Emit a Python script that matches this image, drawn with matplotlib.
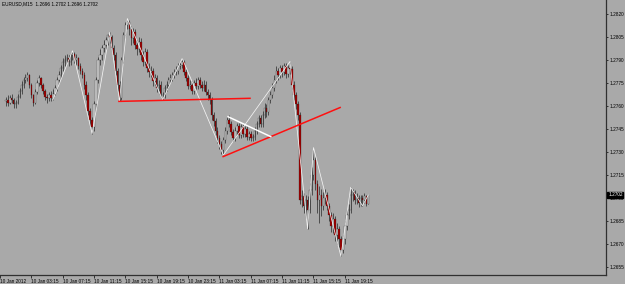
import numpy as np
import matplotlib
matplotlib.use("Agg")
import matplotlib.pyplot as plt

# EURUSD M15, 10-11 Jan 2012
first_open = 1.2763
closes = [
    1.2764, 1.2762, 1.2765, 1.2764, 1.2761, 1.2762, 1.2766, 1.2770, 1.2774, 1.2777,
    1.2778, 1.2780, 1.2774, 1.2767, 1.2762, 1.2769, 1.2775, 1.2778, 1.2774, 1.2770,
    1.2766, 1.2765, 1.2767, 1.2765, 1.2768, 1.2772, 1.2777, 1.2780, 1.2785, 1.2789,
    1.2790, 1.2791, 1.2789, 1.2793, 1.2794, 1.2790, 1.2791, 1.2786, 1.2783, 1.2780,
    1.2774, 1.2767, 1.2757, 1.2751, 1.2746, 1.2761, 1.2777, 1.2790, 1.2793, 1.2798,
    1.2800, 1.2803, 1.2806, 1.2805, 1.2798, 1.2793, 1.2783, 1.2774, 1.2765, 1.2790,
    1.2806, 1.2813, 1.2815, 1.2810, 1.2804, 1.2808, 1.2800, 1.2797, 1.2802, 1.2793,
    1.2789, 1.2795, 1.2785, 1.2782, 1.2783, 1.2776, 1.2778, 1.2772, 1.2774, 1.2767,
    1.2767, 1.2772, 1.2774, 1.2777, 1.2778, 1.2780, 1.2782, 1.2783, 1.2786, 1.2787,
    1.2789, 1.2782, 1.2778, 1.2773, 1.2774, 1.2770, 1.2775, 1.2773, 1.2777, 1.2774,
    1.2772, 1.2774, 1.2769, 1.2767, 1.2764, 1.2754, 1.2750, 1.2744, 1.2739, 1.2735,
    1.2731, 1.2738, 1.2744, 1.2751, 1.2748, 1.2743, 1.2739, 1.2744, 1.2747, 1.2741,
    1.2746, 1.2742, 1.2745, 1.2740, 1.2742, 1.2739, 1.2740, 1.2744, 1.2748, 1.2752,
    1.2748, 1.2754, 1.2759, 1.2756, 1.2764, 1.2767, 1.2772, 1.2777, 1.2783, 1.2780,
    1.2785, 1.2782, 1.2786, 1.2781, 1.2785, 1.2784, 1.2774, 1.2767, 1.2761, 1.2754,
    1.2699, 1.2701, 1.2695, 1.2699, 1.2692, 1.2705, 1.2715, 1.2725, 1.2709, 1.2699,
    1.2702, 1.2695, 1.2700, 1.2702, 1.2695, 1.2689, 1.2682, 1.2686, 1.2676, 1.2680,
    1.2673, 1.2666, 1.2673, 1.2682, 1.2689, 1.2692, 1.2702, 1.2704, 1.2699, 1.2700,
    1.2697, 1.2700, 1.2699, 1.2701, 1.2696, 1.2702,
]
highs = [
    1.2766, 1.2767, 1.2767, 1.2768, 1.2765, 1.2764, 1.2768, 1.2772, 1.2776, 1.2779,
    1.2781, 1.2782, 1.2781, 1.2775, 1.2768, 1.2771, 1.2777, 1.2780, 1.2779, 1.2775,
    1.2771, 1.2768, 1.2769, 1.2770, 1.2771, 1.2774, 1.2779, 1.2783, 1.2787, 1.2791,
    1.2793, 1.2794, 1.2793, 1.2795, 1.2796, 1.2795, 1.2794, 1.2792, 1.2788, 1.2785,
    1.2782, 1.2776, 1.2769, 1.2759, 1.2753, 1.2763, 1.2779, 1.2792, 1.2797, 1.2800,
    1.2803, 1.2805, 1.2807, 1.2808, 1.2806, 1.2800, 1.2795, 1.2785, 1.2776, 1.2792,
    1.2808, 1.2815, 1.2817, 1.2816, 1.2812, 1.2811, 1.2810, 1.2803, 1.2805, 1.2804,
    1.2796, 1.2798, 1.2797, 1.2788, 1.2786, 1.2785, 1.2781, 1.2780, 1.2777, 1.2776,
    1.2769, 1.2774, 1.2776, 1.2779, 1.2781, 1.2782, 1.2784, 1.2786, 1.2788, 1.2789,
    1.2791, 1.2790, 1.2784, 1.2780, 1.2777, 1.2776, 1.2777, 1.2778, 1.2779, 1.2779,
    1.2776, 1.2777, 1.2776, 1.2771, 1.2769, 1.2766, 1.2756, 1.2752, 1.2746, 1.2741,
    1.2737, 1.2740, 1.2746, 1.2753, 1.2754, 1.2750, 1.2745, 1.2746, 1.2749, 1.2749,
    1.2748, 1.2748, 1.2747, 1.2747, 1.2744, 1.2744, 1.2742, 1.2746, 1.2750, 1.2754,
    1.2754, 1.2757, 1.2762, 1.2761, 1.2766, 1.2770, 1.2775, 1.2780, 1.2786, 1.2785,
    1.2787, 1.2787, 1.2788, 1.2788, 1.2787, 1.2789, 1.2786, 1.2776, 1.2769, 1.2763,
    1.2756, 1.2705, 1.2703, 1.2702, 1.2701, 1.2710, 1.2720, 1.2733, 1.2727, 1.2712,
    1.2708, 1.2706, 1.2704, 1.2706, 1.2704, 1.2697, 1.2691, 1.2690, 1.2688, 1.2684,
    1.2682, 1.2675, 1.2676, 1.2685, 1.2692, 1.2696, 1.2707, 1.2706, 1.2705, 1.2703,
    1.2702, 1.2702, 1.2702, 1.2703, 1.2702, 1.2702,
]
lows = [
    1.2760, 1.2760, 1.2761, 1.2762, 1.2759, 1.2759, 1.2761, 1.2765, 1.2768, 1.2772,
    1.2775, 1.2776, 1.2772, 1.2765, 1.2760, 1.2761, 1.2768, 1.2773, 1.2772, 1.2768,
    1.2764, 1.2762, 1.2763, 1.2763, 1.2764, 1.2767, 1.2770, 1.2775, 1.2778, 1.2783,
    1.2786, 1.2788, 1.2786, 1.2787, 1.2790, 1.2788, 1.2787, 1.2784, 1.2781, 1.2778,
    1.2771, 1.2764, 1.2754, 1.2747, 1.2742, 1.2744, 1.2759, 1.2775, 1.2787, 1.2790,
    1.2795, 1.2797, 1.2800, 1.2801, 1.2795, 1.2790, 1.2780, 1.2770, 1.2763, 1.2764,
    1.2788, 1.2804, 1.2810, 1.2806, 1.2800, 1.2801, 1.2797, 1.2793, 1.2795, 1.2790,
    1.2786, 1.2787, 1.2782, 1.2779, 1.2779, 1.2773, 1.2774, 1.2769, 1.2770, 1.2765,
    1.2764, 1.2765, 1.2770, 1.2772, 1.2775, 1.2776, 1.2778, 1.2780, 1.2781, 1.2784,
    1.2785, 1.2780, 1.2776, 1.2771, 1.2771, 1.2768, 1.2768, 1.2771, 1.2771, 1.2772,
    1.2770, 1.2770, 1.2767, 1.2764, 1.2761, 1.2751, 1.2747, 1.2741, 1.2736, 1.2732,
    1.2729, 1.2728, 1.2736, 1.2742, 1.2746, 1.2741, 1.2737, 1.2737, 1.2742, 1.2739,
    1.2739, 1.2740, 1.2740, 1.2738, 1.2738, 1.2737, 1.2737, 1.2738, 1.2742, 1.2746,
    1.2746, 1.2746, 1.2752, 1.2753, 1.2754, 1.2762, 1.2765, 1.2770, 1.2775, 1.2777,
    1.2778, 1.2779, 1.2780, 1.2778, 1.2779, 1.2781, 1.2771, 1.2764, 1.2758, 1.2751,
    1.2696, 1.2694, 1.2690, 1.2687, 1.2680, 1.2690, 1.2702, 1.2712, 1.2705, 1.2690,
    1.2684, 1.2688, 1.2692, 1.2696, 1.2692, 1.2685, 1.2678, 1.2677, 1.2672, 1.2670,
    1.2668, 1.2662, 1.2664, 1.2670, 1.2679, 1.2686, 1.2690, 1.2698, 1.2696, 1.2696,
    1.2694, 1.2695, 1.2695, 1.2697, 1.2695, 1.2696,
]

# zigzag pivots (bar index, price)
zz_bars = [24, 34, 44, 53, 58, 62, 80, 90, 111, 145, 154, 157, 171, 176, 182, 185]
zz_prices = [1.2764, 1.2796, 1.2742, 1.2808, 1.2763, 1.2817, 1.2764, 1.2791, 1.2728,
             1.2789, 1.2680, 1.2733, 1.2662, 1.2707, 1.2695, 1.2702]

# hand drawn trend lines: (bar0, price0, bar1, price1)
red_lines = [(57.7, 1.2763, 124.6, 1.2765), (110.9, 1.2727, 170.6, 1.2759)]
white_lines = [(113.4, 1.2753, 135.2, 1.2740)]

price_ticks = [1.2655, 1.2670, 1.2685, 1.2700, 1.2715, 1.2730, 1.2745, 1.2760,
               1.2775, 1.2790, 1.2805, 1.2820]
time_labels = ["10 Jan 2012", "10 Jan 03:15", "10 Jan 07:15", "10 Jan 11:15",
               "10 Jan 15:15", "10 Jan 19:15", "10 Jan 23:15", "11 Jan 03:15",
               "11 Jan 07:15", "11 Jan 11:15", "11 Jan 15:15", "11 Jan 19:15"]
time_label_bars = [-3, 13, 29, 45, 61, 77, 93, 109, 125, 141, 157, 173]

bg = "#a9a9a9"
font = "Liberation Sans"
fs = 3.4

closes = np.array(closes)
highs = np.array(highs)
lows = np.array(lows)
opens = np.concatenate([[first_open], closes[:-1]])
idx = np.arange(len(closes))

fig = plt.figure(figsize=(6.25, 2.84), dpi=100, facecolor=bg)
ax = fig.add_axes([0, 9 / 284, 606 / 625, 275 / 284])
ax.set_facecolor(bg)

# wicks then bodies
ax.vlines(idx, lows, highs, color="#1a1a1a", linewidth=0.45, zorder=2)
up = closes >= opens
body_bottom = np.minimum(opens, closes)
body_h = np.maximum(np.abs(closes - opens), 0.00004)
ax.bar(idx[up], body_h[up], bottom=body_bottom[up], width=0.75,
       color="#d2d2d2", edgecolor="#1a1a1a", linewidth=0.18, zorder=3)
ax.bar(idx[~up], body_h[~up], bottom=body_bottom[~up], width=0.75,
       color="#a00000", edgecolor="#1a1a1a", linewidth=0.18, zorder=3)

# zigzag
ax.plot(zz_bars, zz_prices, color="#f4f4f4", linewidth=0.55, zorder=4)

for b0, p0, b1, p1 in red_lines:
    ax.plot([b0, b1], [p0, p1], color="#ff1010", linewidth=1.1, zorder=5)
for b0, p0, b1, p1 in white_lines:
    ax.plot([b0, b1], [p0, p1], color="white", linewidth=1.1, zorder=5)

ax.set_xlim(-0.5, 306.3)
ax.set_ylim(1.26498, 1.28291)

for s in ["top", "left"]:
    ax.spines[s].set_visible(False)
for s in ["right", "bottom"]:
    ax.spines[s].set_color("#303030")
    ax.spines[s].set_linewidth(0.9)

ax.yaxis.tick_right()
ax.set_yticks(price_ticks)
ax.set_yticklabels([f"{p:.4f}" for p in price_ticks], fontsize=fs, family=font)
ax.tick_params(axis="y", length=1.5, width=0.5, pad=1, colors="black")

ax.set_xticks(time_label_bars)
ax.set_xticklabels(time_labels, fontsize=fs, family=font, ha="left")
ax.tick_params(axis="x", length=2, width=0.5, pad=1, colors="black")

# current price box
ax.annotate("1.2702", xy=(1, closes[-1]), xycoords=("axes fraction", "data"),
            xytext=(1.5, 0), textcoords="offset points", va="center", ha="left",
            fontsize=fs, family=font, color="white",
            bbox=dict(boxstyle="square,pad=0.15", fc="black", ec="black"))

ax.text(0.003, 0.995, "EURUSD,M15  1.2696 1.2702 1.2696 1.2702",
        transform=ax.transAxes, fontsize=fs, family=font, va="top", ha="left")

fig.savefig("out.png", dpi=100, facecolor=bg)
